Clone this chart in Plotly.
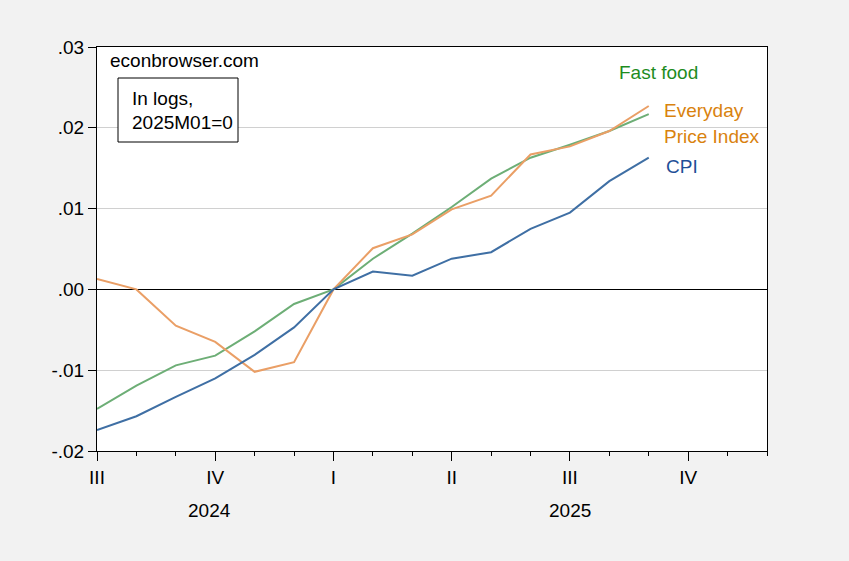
import plotly.graph_objects as go

months = ["2024-07", "2024-08", "2024-09", "2024-10", "2024-11", "2024-12",
          "2025-01", "2025-02", "2025-03", "2025-04", "2025-05", "2025-06",
          "2025-07", "2025-08", "2025-09"]
cpi = [-0.0174, -0.0157, -0.0133, -0.0110, -0.0081, -0.0047, 0.0,
       0.0022, 0.0017, 0.0038, 0.0046, 0.0075, 0.0095, 0.0134, 0.0163]
fast_food = [-0.0148, -0.0119, -0.0094, -0.0082, -0.0052, -0.0018, 0.0,
             0.0038, 0.0069, 0.0102, 0.0137, 0.0163, 0.0179, 0.0196, 0.0217]
everyday = [0.0013, 0.0000, -0.0045, -0.0065, -0.0102, -0.0090, 0.0,
            0.0051, 0.0068, 0.0099, 0.0116, 0.0167, 0.0177, 0.0196, 0.0227]

quarter_labels = ["III", "IV", "I", "II", "III", "IV"]
year_labels = ["2024", "2025"]
ytick_vals = [-0.02, -0.01, 0.0, 0.01, 0.02, 0.03]
ytick_text = ["-.02", "-.01", ".00", ".01", ".02", ".03"]

x = list(range(len(months)))
FONT = "Liberation Sans, Arial, sans-serif"

fig = go.Figure()
fig.add_trace(go.Scatter(x=x, y=fast_food, mode="lines", name="Fast food",
                         line=dict(color="#6DAE76", width=2)))
fig.add_trace(go.Scatter(x=x, y=everyday, mode="lines", name="Everyday Price Index",
                         line=dict(color="#EA9F66", width=2)))
fig.add_trace(go.Scatter(x=x, y=cpi, mode="lines", name="CPI",
                         line=dict(color="#3F6FA4", width=2)))

W, H = 849, 561
L, R, T, B = 97, 82, 47, 110
pw, ph = W - L - R, H - T - B


def px(xp):
    return (xp - L) / pw


def py(yp):
    return (H - B - yp) / ph


fig.update_layout(
    width=W, height=H,
    margin=dict(l=L, r=R, t=T, b=B),
    paper_bgcolor="#F2F2F2", plot_bgcolor="white",
    showlegend=False,
    font=dict(family=FONT, size=19, color="black"),
)
fig.update_xaxes(
    range=[0, 17],
    tickmode="array", tickvals=[0, 3, 6, 9, 12, 15], ticktext=quarter_labels,
    ticks="outside", ticklen=9, tickcolor="black", tickwidth=1,
    minor=dict(tickmode="array", tickvals=list(range(18)), ticks="outside",
               ticklen=4, tickcolor="black", tickwidth=1, showgrid=False),
    showgrid=False, zeroline=False,
    showline=True, linecolor="black", linewidth=1, mirror=True,
    tickfont=dict(size=19, family=FONT, color="black"),
)
fig.update_yaxes(
    range=[-0.02, 0.03],
    tickmode="array", tickvals=ytick_vals, ticktext=ytick_text,
    ticks="outside", ticklen=8, tickcolor="black", tickwidth=1,
    showgrid=True, gridcolor="#D0D0D0", gridwidth=1,
    zeroline=True, zerolinecolor="black", zerolinewidth=1,
    showline=True, linecolor="black", linewidth=1, mirror=True,
    tickfont=dict(size=19, family=FONT, color="black"),
)

ann = []
ann.append(dict(x=px(108), y=py(60), xref="paper", yref="paper", text="econbrowser.com",
                showarrow=False, xanchor="left", yanchor="middle"))
ann.append(dict(x=px(130), y=py(98), xref="paper", yref="paper", text="In logs,",
                showarrow=False, xanchor="left", yanchor="middle"))
ann.append(dict(x=px(130), y=py(122), xref="paper", yref="paper", text="2025M01=0",
                showarrow=False, xanchor="left", yanchor="middle"))
ann.append(dict(x=px(658), y=py(73), xref="paper", yref="paper", text="Fast food",
                showarrow=False, xanchor="center", yanchor="middle",
                font=dict(color="#1E8C1E")))
ann.append(dict(x=px(662), y=py(110), xref="paper", yref="paper", text="Everyday",
                showarrow=False, xanchor="left", yanchor="middle",
                font=dict(color="#D9820E")))
ann.append(dict(x=px(662), y=py(136), xref="paper", yref="paper", text="Price Index",
                showarrow=False, xanchor="left", yanchor="middle",
                font=dict(color="#D9820E")))
ann.append(dict(x=px(664), y=py(166), xref="paper", yref="paper", text="CPI",
                showarrow=False, xanchor="left", yanchor="middle",
                font=dict(color="#1F4F98")))
ann.append(dict(x=2.86, y=py(511), xref="x", yref="paper", text=year_labels[0],
                showarrow=False, xanchor="center", yanchor="middle"))
ann.append(dict(x=12.0, y=py(511), xref="x", yref="paper", text=year_labels[1],
                showarrow=False, xanchor="center", yanchor="middle"))
fig.update_layout(annotations=ann)

fig.add_shape(type="rect", xref="paper", yref="paper",
              x0=px(118), x1=px(238), y0=py(142), y1=py(78),
              line=dict(color="black", width=1), fillcolor="white", layer="above")

fig.write_html("out.html",
               config={"displayModeBar": False},
               post_script="document.body.style.margin='0';document.body.style.padding='0';"
                           "document.body.style.background='#F2F2F2';")
